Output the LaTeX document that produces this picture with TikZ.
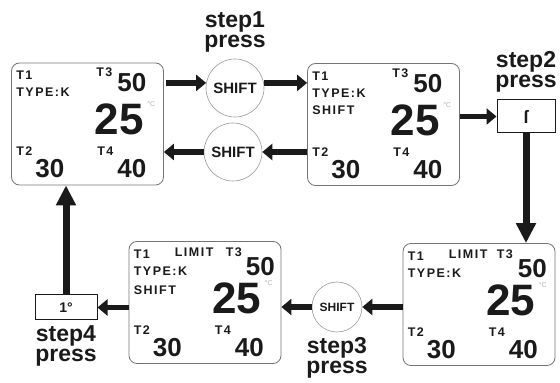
\documentclass[tikz,border=0pt]{standalone}
\usepackage{fontspec}
\setmainfont{Liberation Sans}
\newfontfamily\tagfont[LetterSpace=12]{Liberation Sans}
\usetikzlibrary{positioning,arrows.meta}

\definecolor{ink}{HTML}{1A1A1A}

% one display panel with the readings every panel shows
\newcommand{\readout}[2]{%
  \node[frame] (#1) at (#2) {};
  \node[tag] (#1-t1) at ([shift={(5,-17)}]#1.north west) {T1};
  \node[tag] (#1-type) at ([shift={(5,-34)}]#1.north west) {TYPE:K};
  \node[big] (#1-main) at ([shift={(108,-72)}]#1.north west) {25};
  \node[unit] (#1-unit) at ([shift={(136,-44)}]#1.north west) {°C};
  \node[tag] (#1-t2) at ([shift={(5,-93)}]#1.north west) {T2};
  \node[mid] (#1-v2) at ([shift={(24,-115)}]#1.north west) {30};
  \node[tag] (#1-t4) at ([shift={(86,-93)}]#1.north west) {T4};
  \node[mid] (#1-v4) at ([shift={(106,-115)}]#1.north west) {40};
}

\begin{document}
\begin{tikzpicture}[x=1pt, y=1pt,
  frame/.style={draw=black!55, rounded corners=8pt, line width=0.8pt,
    minimum width=152pt, minimum height=122pt, inner sep=0pt},
  shiftkey/.style={circle, draw=black!40, line width=0.6pt, minimum size=58pt,
    inner sep=0pt, text=ink, font=\bfseries\fontsize{15}{15}\selectfont},
  presskey/.style={draw=ink, line width=1pt, inner sep=0pt, text=ink,
    font=\bfseries\fontsize{14}{14}\selectfont},
  tag/.style={anchor=base west, inner sep=0pt, text=ink, text depth=0pt,
    font=\tagfont\bfseries\fontsize{12.5}{12.5}\selectfont},
  mid/.style={anchor=base west, inner sep=0pt, text=ink, text depth=0pt,
    font=\bfseries\fontsize{26}{26}\selectfont},
  big/.style={anchor=base, inner sep=0pt, text=ink, text depth=0pt,
    font=\bfseries\fontsize{44}{44}\selectfont},
  unit/.style={anchor=base west, inner sep=0pt, text=black!30,
    font=\fontsize{7}{7}\selectfont},
  steplabel/.style={align=center, inner sep=0pt, text=ink,
    font=\bfseries\fontsize{23}{20}\selectfont},
  flow/.style={draw=ink, line width=5.5pt, -{Triangle[length=10pt,width=16pt]}},
  vflow/.style={draw=ink, line width=7pt, -{Triangle[length=20pt,width=19pt]}}]
  \useasboundingbox (0,0) rectangle (560,383);

  % panels
  \readout{disp1}{87.5,259}
  \node[tag] (disp1-t3) at ([shift={(85,-14)}]disp1.north west) {T3};
  \node[mid] (disp1-v3) at ([shift={(106,-29)}]disp1.north west) {50};

  \readout{disp2}{383.5,258.5}
  \node[tag] (disp2-t3) at ([shift={(85,-14)}]disp2.north west) {T3};
  \node[mid] (disp2-v3) at ([shift={(106,-29)}]disp2.north west) {50};
  \node[tag] (disp2-sh) at ([shift={(5,-51)}]disp2.north west) {SHIFT};

  \readout{disp3}{479,78.5}
  \node[tag] (disp3-lim) at ([shift={(46,-15)}]disp3.north west) {LIMIT};
  \node[tag] (disp3-t3) at ([shift={(94,-15)}]disp3.north west) {T3};
  \node[mid] (disp3-v3) at ([shift={(115,-34)}]disp3.north west) {50};

  \readout{disp4}{205,80.5}
  \node[tag] (disp4-lim) at ([shift={(46,-15)}]disp4.north west) {LIMIT};
  \node[tag] (disp4-t3) at ([shift={(97,-15)}]disp4.north west) {T3};
  \node[mid] (disp4-v3) at ([shift={(117,-34)}]disp4.north west) {50};
  \node[tag] (disp4-sh) at ([shift={(5,-53)}]disp4.north west) {SHIFT};

  % keys
  \node[shiftkey] (sh1) at (235,295) {SHIFT};
  \node[shiftkey] (sh2) at (233,231) {SHIFT};
  \node[shiftkey, minimum size=50pt, font=\bfseries\fontsize{12}{12}\selectfont]
    (sh3) at (337,76) {SHIFT};
  \node[presskey, minimum width=58pt, minimum height=33pt,
    font=\bfseries\fontsize{18}{18}\selectfont] (up) at (526,266.5) {ſ};
  \node[presskey, minimum width=62pt, minimum height=25pt] (deg) at (66,75.5) {1°};

  % step labels
  \node[steplabel, above=6pt of sh1] (step1) {step1\\press};
  \node[steplabel, above=7pt of up] (step2) {step2\\press};
  \node[steplabel, below=5pt of sh3] (step3) {step3\\press};
  \node[steplabel, below=5pt of deg] (step4) {step4\\press};

  % arrows
  \draw[flow] ([xshift=2pt]disp1.east |- sh1.170) -- (sh1.170);
  \draw[flow] (sh1.10) -- (sh1.10 -| disp2.west);
  \draw[flow] (disp2.west |- sh2) -- (sh2.east);
  \draw[flow] (sh2.west) -- (sh2.west -| disp1.east);
  \draw[flow] (disp2.east |- up) -- (up.west);
  \draw[vflow] (up.south) -- (up.south |- disp3.north);
  \draw[flow] (disp3.west |- sh3) -- (sh3.east);
  \draw[flow] (sh3.west) -- (sh3.west -| disp4.east);
  \draw[flow] (disp4.west |- deg) -- (deg.east);
  \draw[vflow] (deg.north) -- (deg.north |- disp1.south);
\end{tikzpicture}
\end{document}
